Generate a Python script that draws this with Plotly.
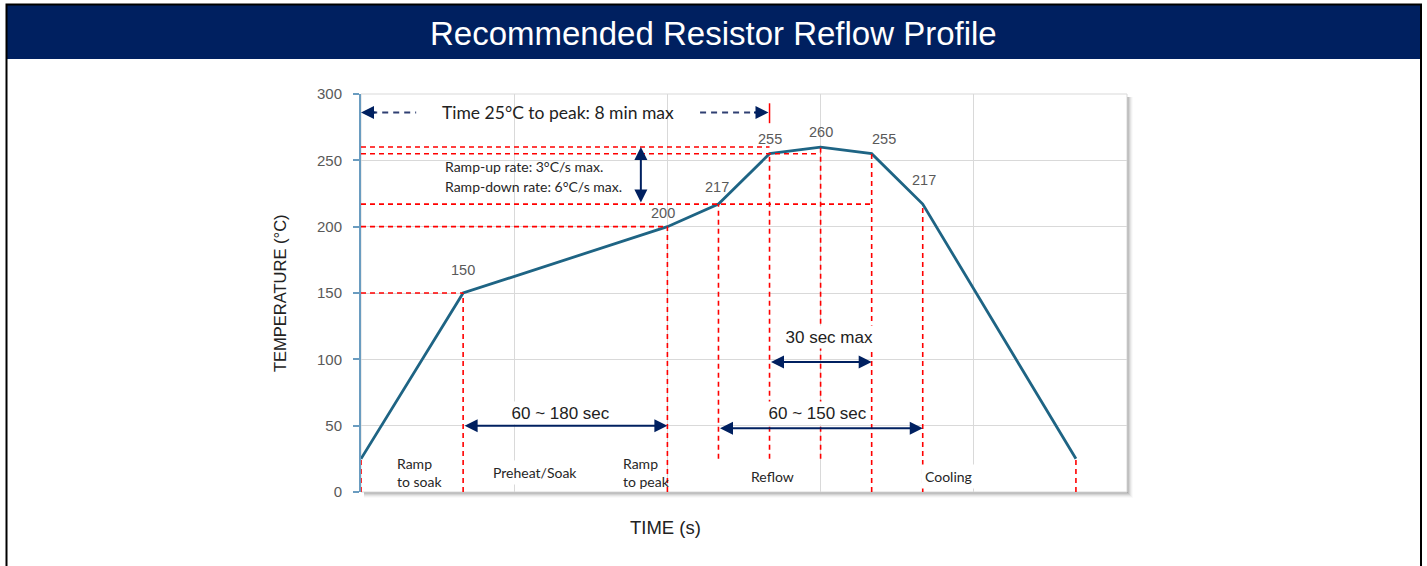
import plotly.graph_objects as go

# ---------------- data ----------------
time_pts = [0, 2, 6, 7, 8, 9, 10, 11, 14]
temp_pts = [25, 150, 200, 217, 255, 260, 255, 217, 25]

# which points carry a value label, and label nudges (px)
label_idx = [1, 2, 3, 4, 5, 6, 7]
label_dx = [0, -4, -1, 0, 0, 12, 1]
label_dy = [23, 14, 17, 15, 15, 15, 24]

y_ticks = [0, 50, 100, 150, 200, 250, 300]
x_range = [0, 15]
x_dtick = 3

# red dashed guide lines
h_guides = [(150, 2), (200, 6), (217, 10), (255, 9), (260, 8)]          # (temp, time end)
v_guides = [(0, 25, 0), (2, 150, 0), (6, 200, 0), (7, 217, 25), (8, 255, 25),
            (9, 260, 25), (10, 255, 0), (11, 217, 0), (14, 25, 0)]      # (time, top, bottom)

# duration arrows: (t_start, t_end, temp level, text, text_x, text_y)
spans = [
    (2, 6, 50, "60 ~ 180 sec", 3.9, 59.5),
    (7, 11, 48, "60 ~ 150 sec", 8.93, 59.5),
    (8, 10, 98, "30 sec max", 9.16, 117),
]

ramp_notes = ["Ramp-up rate: 3°C/s max.", "Ramp-down rate: 6°C/s max."]
ramp_note_y = [245.4, 230.6]

phases = [
    ("Ramp<br>to soak", 0.63, 15, "left", False),
    ("Preheat/Soak", 3.4, 15, "center", True),
    ("Ramp<br>to peak", 5.05, 15, "left", False),
    ("Reflow", 8.05, 12, "center", False),
    ("Cooling", 11.5, 12, "center", True),
]

# ---------------- layout geometry ----------------
W, H = 1427, 566
L, R, T, B = 361, 1127, 94, 492
PW, PH = R - L, B - T


def px(x):
    return (x - L) / PW


def py(y):
    return (B - y) / PH


NAVY = "#002060"
LINE = "#1E6484"
RED = "#FF0000"
GRID = "#D9D9D9"
AXIS = "#6A9CC0"
ARIAL = "Liberation Sans, Arial"

fig = go.Figure()
fig.add_trace(go.Scatter(
    x=time_pts, y=temp_pts, mode="lines",
    line=dict(color=LINE, width=2.8), hoverinfo="skip", showlegend=False,
))

shapes = []
annotations = []

# shadow of the plot area (below) and white plot background
for i, a in zip(range(1, 7), [0.10, 0.09, 0.07, 0.05, 0.035, 0.02]):
    shapes.append(dict(type="rect", xref="paper", yref="paper", layer="below",
                       x0=px(L + 3), x1=px(R + i), y0=py(B + i), y1=py(T + 3),
                       line=dict(width=0), fillcolor=f"rgba(0,0,0,{a})"))
shapes.append(dict(type="rect", xref="paper", yref="paper", layer="below",
                   x0=0, x1=1, y0=0, y1=1, line=dict(color=GRID, width=1),
                   fillcolor="white"))

# title banner and frame
shapes.append(dict(type="rect", xref="paper", yref="paper", layer="below",
                   x0=px(7), x1=px(1420), y0=py(59), y1=py(5),
                   line=dict(width=0), fillcolor=NAVY))
shapes.append(dict(type="rect", xref="paper", yref="paper", layer="above",
                   x0=px(6.5), x1=px(1421), y0=py(580), y1=py(4.5),
                   line=dict(color="black", width=2), fillcolor="rgba(0,0,0,0)"))

dash = "5px,4px"
for yv, xe in h_guides:
    shapes.append(dict(type="line", xref="x", yref="y", x0=0, x1=xe, y0=yv, y1=yv,
                       line=dict(color=RED, width=1.6, dash=dash)))
for xv, yt, yb in v_guides:
    shapes.append(dict(type="line", xref="x", yref="y", x0=xv, x1=xv, y0=yb, y1=yt,
                       line=dict(color=RED, width=1.6, dash=dash)))

# top "time to peak" dashed arrows
peak_t = time_pts[4]  # first 255 point
top_y = 286
shapes.append(dict(type="line", xref="x", yref="y", x0=0.2, x1=1.08, y0=top_y, y1=top_y,
                   line=dict(color="#2F3F72", width=2, dash="6px,5px")))
shapes.append(dict(type="line", xref="x", yref="y", x0=6.64, x1=7.75, y0=top_y, y1=top_y,
                   line=dict(color="#2F3F72", width=2, dash="6px,5px")))
shapes.append(dict(type="line", xref="x", yref="y", x0=peak_t, x1=peak_t, y0=278, y1=293,
                   line=dict(color=RED, width=1.5)))
annotations.append(dict(x=0, y=top_y, xref="x", yref="y", ax=16, ay=0, text="",
                        showarrow=True, arrowhead=2, arrowsize=1.3, arrowwidth=2,
                        arrowcolor=NAVY, standoff=0))
annotations.append(dict(x=peak_t - 0.02, y=top_y, xref="x", yref="y", ax=-16, ay=0, text="",
                        showarrow=True, arrowhead=2, arrowsize=1.3, arrowwidth=2,
                        arrowcolor=NAVY, standoff=0))
annotations.append(dict(x=3.86, y=top_y, xref="x", yref="y", showarrow=False,
                        text="Time 25°C to peak: 8 min max",
                        font=dict(family="Lato", size=17.5, color="#222222")))

# ramp rate vertical double arrow
annotations.append(dict(x=5.48, y=260, ax=5.48, ay=217, xref="x", yref="y",
                        axref="x", ayref="y", text="", showarrow=True,
                        arrowhead=2, arrowside="end+start", arrowsize=1.3,
                        arrowwidth=2, arrowcolor=NAVY, standoff=0, startstandoff=0))
for txt, yv in zip(ramp_notes, ramp_note_y):
    annotations.append(dict(x=1.6, y=yv, xref="x", yref="y", showarrow=False,
                            xanchor="left", yanchor="middle", align="left",
                            text=txt,
                            font=dict(family="Lato", size=14, color="#262626")))

# duration arrows (labels first so the arrows stay on top of the label boxes)
for t0, t1, lvl, txt, tx, ty in spans:
    annotations.append(dict(x=tx, y=ty, xref="x", yref="y", showarrow=False,
                            text=txt, bgcolor="white", borderpad=1.5,
                            font=dict(family=ARIAL, size=17, color="#222222")))
for t0, t1, lvl, txt, tx, ty in spans:
    annotations.append(dict(x=t1, y=lvl, ax=t0, ay=lvl, xref="x", yref="y",
                            axref="x", ayref="y", text="", showarrow=True,
                            arrowhead=2, arrowside="end+start", arrowsize=1.3,
                            arrowwidth=2, arrowcolor=NAVY, standoff=0, startstandoff=0))

# phase labels
for txt, tx, ty, al, bg in phases:
    annotations.append(dict(x=tx, y=ty, xref="x", yref="y", showarrow=False,
                            text=txt, xanchor=al, yanchor="middle", align=al,
                            bgcolor="white" if bg else "rgba(0,0,0,0)", borderpad=3,
                            font=dict(family="Lato", size=14, color="#262626")))

# point value labels
for i, dx, dy in zip(label_idx, label_dx, label_dy):
    annotations.append(dict(x=time_pts[i], y=temp_pts[i], xref="x", yref="y",
                            showarrow=False, text=str(temp_pts[i]),
                            xshift=dx, yshift=dy,
                            font=dict(family=ARIAL, size=14.5, color="#595959")))

# axis titles and main title
annotations.append(dict(x=px(280), y=py(293), xref="paper", yref="paper",
                        xanchor="center", yanchor="middle",
                        showarrow=False, text="TEMPERATURE (°C)", textangle=-90,
                        font=dict(family=ARIAL, size=16.5, color="#222222")))
annotations.append(dict(x=px(665), y=py(527), xref="paper", yref="paper",
                        xanchor="center", yanchor="middle",
                        showarrow=False, text="TIME (s)",
                        font=dict(family=ARIAL, size=18.5, color="#222222")))
annotations.append(dict(x=px(713), y=py(33), xref="paper", yref="paper",
                        xanchor="center", yanchor="middle",
                        showarrow=False, text="Recommended Resistor Reflow Profile",
                        font=dict(family=ARIAL, size=33, color="white")))

fig.update_layout(
    width=W, height=H,
    margin=dict(l=L, r=W - R, t=T, b=H - B, pad=0),
    paper_bgcolor="white", plot_bgcolor="rgba(0,0,0,0)",
    showlegend=False,
    shapes=shapes, annotations=annotations,
    xaxis=dict(range=x_range, dtick=x_dtick, tick0=0, showgrid=True, gridcolor=GRID,
               gridwidth=1, showticklabels=False, zeroline=False, showline=False,
               ticks="", fixedrange=True),
    yaxis=dict(range=[y_ticks[0], y_ticks[-1]], tickvals=y_ticks, showgrid=True,
               gridcolor=GRID, gridwidth=1, zeroline=False, showline=True,
               linecolor=AXIS, linewidth=2, ticks="outside", ticklen=6,
               tickcolor=AXIS, tickwidth=1.5, ticklabelstandoff=8,
               tickfont=dict(family=ARIAL, size=15, color="#595959"),
               fixedrange=True),
)

fig.write_html("out.html",
               config={"displayModeBar": False},
               post_script="document.body.style.margin='0';"
                           "document.body.style.overflow='hidden';")
